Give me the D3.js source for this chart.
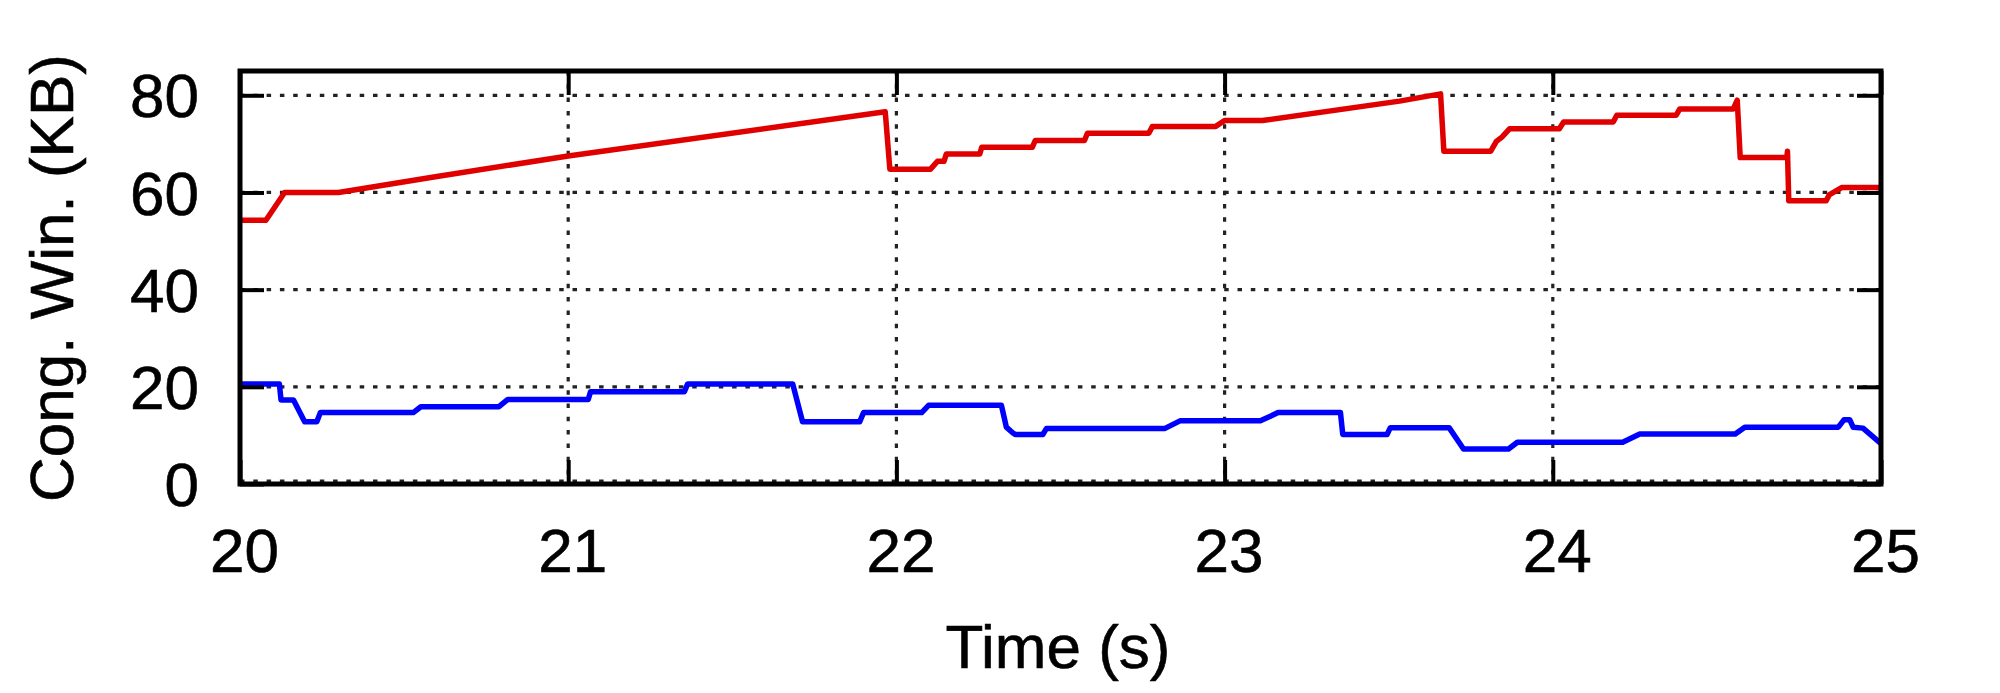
<!DOCTYPE html>
<html>
<head>
<meta charset="utf-8">
<script src="https://cdn.jsdelivr.net/npm/d3@7"></script>
<style>
  html, body { margin: 0; padding: 0; background: #fff; }
  svg { display: block; }
  text { font-family: "Liberation Sans", Arial, Helvetica, sans-serif; fill: #000; }
</style>
</head>
<body>
<svg id="chart" width="2000" height="693"></svg>
<script>
// ---- data ----
const xTicks = [20, 21, 22, 23, 24, 25];
const yTicks = [0, 20, 40, 60, 80];
const xLabel = "Time (s)";
const yLabel = "Cong. Win. (KB)";

// red flow: time (s) and congestion window (KB)
const redTime = [20.000, 20.079, 20.136, 20.300, 20.600, 21.000, 21.966, 21.980, 22.104, 22.125, 22.145, 22.152,
  22.254, 22.260, 22.414, 22.423, 22.573, 22.582, 22.769, 22.780, 22.973, 23.000, 23.115, 23.533,
  23.658, 23.668, 23.811, 23.828, 23.845, 23.868, 24.020, 24.033, 24.184, 24.195, 24.376, 24.387,
  24.550, 24.562, 24.571, 24.713, 24.715, 24.719, 24.833, 24.842, 24.880, 25.000];
const redCwnd = [54.3, 54.3, 60.0, 60.0, 63.3, 67.5, 76.6, 64.8, 64.8, 66.4, 66.4, 67.9,
  67.9, 69.3, 69.3, 70.7, 70.7, 72.2, 72.2, 73.6, 73.6, 74.8, 74.8, 78.8,
  80.3, 68.5, 68.5, 70.5, 71.4, 73.1, 73.1, 74.5, 74.5, 75.9, 75.9, 77.2,
  77.2, 79.0, 67.2, 67.2, 68.5, 58.3, 58.3, 59.5, 61.0, 61.0];

// blue flow: time (s) and congestion window (KB)
const blueTime = [20.000, 20.120, 20.125, 20.163, 20.197, 20.234, 20.245, 20.528, 20.551, 20.789, 20.816,
  21.061, 21.068, 21.354, 21.364, 21.684, 21.714, 21.888, 21.900, 22.077, 22.098, 22.320, 22.335,
  22.355, 22.362, 22.446, 22.457, 22.817, 22.864, 23.109, 23.163, 23.353, 23.360, 23.495, 23.505,
  23.684, 23.728, 23.865, 23.892, 24.213, 24.265, 24.556, 24.585, 24.870, 24.887, 24.905, 24.915,
  24.945, 25.000];
const blueCwnd = [20.6, 20.6, 17.3, 17.3, 12.8, 12.8, 14.7, 14.7, 15.9, 15.9, 17.4,
  17.4, 19.0, 19.0, 20.6, 20.6, 12.8, 12.8, 14.7, 14.7, 16.2, 16.2, 11.7,
  10.5, 10.2, 10.2, 11.4, 11.4, 13.0, 13.0, 14.7, 14.7, 10.2, 10.2, 11.6,
  11.6, 7.2, 7.2, 8.6, 8.6, 10.3, 10.3, 11.7, 11.7, 13.2, 13.2, 11.7,
  11.5, 8.3];

// ---- layout ----
const svg = d3.select("#chart");
const L = 240, R = 1881, T = 71, B = 484;
const x = d3.scaleLinear().domain([20, 25]).range([L, R]);
const y = d3.scaleLinear().domain([0, 85]).range([B, T]);

svg.append("rect").attr("width", 2000).attr("height", 693).attr("fill", "#fff");

// grid
const grid = svg.append("g").attr("stroke", "#222").attr("stroke-width", 3.2)
  .attr("stroke-dasharray", "4.5 8.8").attr("fill", "none");
grid.selectAll("line.h").data(yTicks).join("line").attr("class", "h")
  .attr("x1", L).attr("x2", R).attr("y1", d => y(d) - (d === 0 ? 3 : 0)).attr("y2", d => y(d) - (d === 0 ? 3 : 0));
grid.selectAll("line.v").data(xTicks.slice(1, -1)).join("line").attr("class", "v")
  .attr("y1", T).attr("y2", B).attr("x1", d => x(d)).attr("x2", d => x(d));

// series
const line = d3.line().x(d => x(d[0])).y(d => y(d[1]));
const red = redTime.map((t, i) => [t, redCwnd[i]]);
const blue = blueTime.map((t, i) => [t, blueCwnd[i]]);
svg.append("path").datum(red).attr("d", line).attr("fill", "none")
  .attr("stroke", "#e00000").attr("stroke-width", 5.5).attr("stroke-linejoin", "round");
svg.append("path").datum(blue).attr("d", line).attr("fill", "none")
  .attr("stroke", "#0000ff").attr("stroke-width", 5.5).attr("stroke-linejoin", "round");

// axes (gnuplot style: inward ticks, mirrored)
const tl = 24;
const axB = d3.axisBottom(x).tickValues(xTicks).tickSize(-tl).tickPadding(0).tickFormat(d3.format("d"));
const axT = d3.axisTop(x).tickValues(xTicks).tickSize(-tl).tickFormat("");
const axL = d3.axisLeft(y).tickValues(yTicks).tickSize(-tl).tickFormat(d3.format("d"));
const axR = d3.axisRight(y).tickValues(yTicks).tickSize(-tl).tickFormat("");

function styleAxis(g) {
  g.select(".domain").remove();
  g.selectAll(".tick line").attr("stroke", "#000").attr("stroke-width", 4);
  g.selectAll(".tick text").attr("font-size", 62).attr("fill", "#000")
    .attr("stroke", "#000").attr("stroke-width", 0.6)
    .attr("font-family", "Liberation Sans, Arial, Helvetica, sans-serif");
}
const gB = svg.append("g").attr("transform", `translate(0,${B})`).call(axB).call(styleAxis);
gB.selectAll(".tick text").attr("y", 88).attr("dy", 0).attr("dx", 4);
svg.append("g").attr("transform", `translate(0,${T})`).call(axT).call(styleAxis);
const gL = svg.append("g").attr("transform", `translate(${L},0)`).call(axL).call(styleAxis);
gL.selectAll(".tick text").attr("x", 199 - L).attr("dy", "0.35em").attr("text-anchor", "end");
svg.append("g").attr("transform", `translate(${R},0)`).call(axR).call(styleAxis);

// frame
svg.append("rect").attr("x", L).attr("y", T).attr("width", R - L).attr("height", B - T)
  .attr("fill", "none").attr("stroke", "#000").attr("stroke-width", 5);

// axis titles
svg.append("text").attr("x", 1058).attr("y", 668).attr("text-anchor", "middle")
  .attr("stroke", "#000").attr("stroke-width", 0.6)
  .attr("font-size", 62).text(xLabel);
svg.append("text").attr("transform", `translate(73,278) rotate(-90)`).attr("text-anchor", "middle")
  .attr("stroke", "#000").attr("stroke-width", 0.6)
  .attr("font-size", 62).text(yLabel);
</script>
</body>
</html>
